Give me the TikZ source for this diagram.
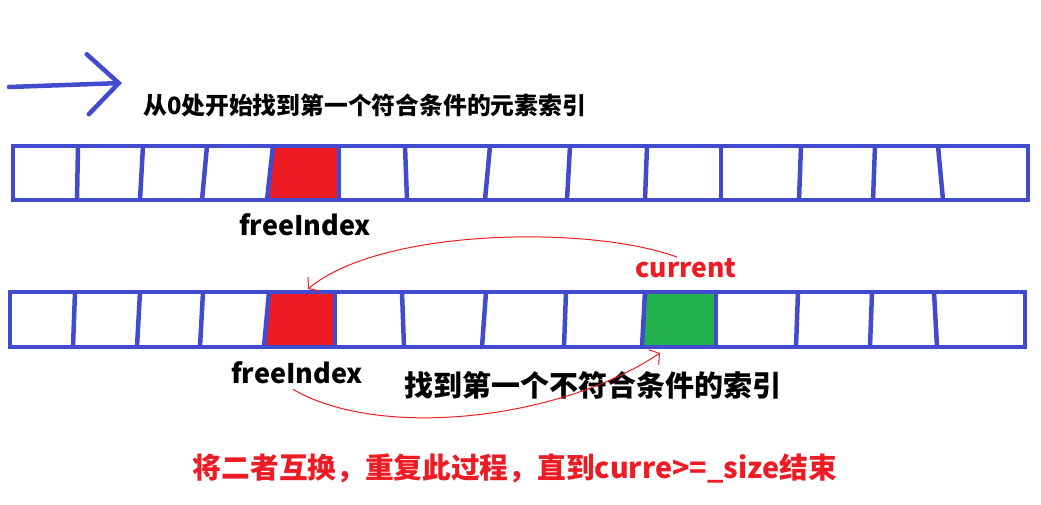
\documentclass[tikz,border=0pt]{standalone}
\usepackage{fontspec}
\setmainfont{Noto Sans CJK SC}
\usepackage{tikz}
\usetikzlibrary{arrows.meta}

\definecolor{arrblue}{RGB}{66,75,205}
\definecolor{cellred}{RGB}{237,28,36}
\definecolor{cellgreen}{RGB}{34,177,76}

\begin{document}
\begin{tikzpicture}[x=1pt, y=-1pt,
    arr/.style={draw=arrblue, line width=4.5pt, line cap=round},
    txt/.style={font=\bfseries\fontsize{#1}{#1}\selectfont, inner sep=0pt},
    swap/.style={draw=cellred, line width=1pt}]
    \useasboundingbox (0,0) rectangle (1041,504);

    % 开头的箭头
    \coordinate (start) at (9,87);
    \coordinate (dir) at (122,83);
    \draw[arr, -{Straight Barb[length=31pt, width=60pt, line cap=round]}] (start) -- (dir);
    \node[txt=23.8, anchor=west] (hint) at (143,105) {从0处开始找到第一个符合条件的元素索引};

    % 第一个数组
    \fill[cellred] (273,148) -- (339,148) -- (339,198) -- (267,198) -- cycle;
    \draw[arr, line cap=butt] (13,146) rectangle (1028,200);
    \foreach \a/\b in {78/77, 143/140, 207/202, 273/267, 339/339, 405/407,
        490/485, 570/567, 647/645, 721/721, 801/799, 875/873, 938/943}
    {
        \draw[arr, line cap=butt] (\a,146) -- (\b,200);
    }
    \node[txt=27] (free1) at (305,225) {freeIndex};

    % 第二个数组
    \fill[cellred] (269,294) -- (335,294) -- (335,345) -- (264,345) -- cycle;
    \fill[cellgreen] (645,294) -- (716,294) -- (716,345) -- (642,345) -- cycle;
    \draw[arr, line cap=butt] (10,292) rectangle (1025,347);
    \foreach \a/\b in {75/73, 140/137, 203/200, 269/264, 335/335, 402/404,
        486/482, 566/564, 645/642, 716/716, 798/796, 872/870, 934/937}
    {
        \draw[arr, line cap=butt] (\a,292) -- (\b,347);
    }
    \node[txt=26.5, text=cellred] (curr) at (686,268) {current};
    \node[txt=27] (free2) at (297,373) {freeIndex};
    \node[txt=29] (find) at (593,385) {找到第一个不符合条件的索引};

    % 交换的红线
    \coordinate (redcell) at (308,289);
    \coordinate (greencell) at (660,353);
    \draw[swap, -{Straight Barb[length=7pt, width=18pt]}]
        ([xshift=-9pt, yshift=1pt]curr.north) .. controls (590,225) and (380,228) .. (redcell);
    \draw[swap, -{Straight Barb[length=7pt, width=18pt]}]
        ([xshift=-4pt, yshift=-5pt]free2.south) .. controls (380,440) and (560,420) .. (greencell);

    \node[txt=28.7, text=cellred] (note) at (515,468) {将二者互换，重复此过程，直到curre>=\_size结束};
\end{tikzpicture}
\end{document}
